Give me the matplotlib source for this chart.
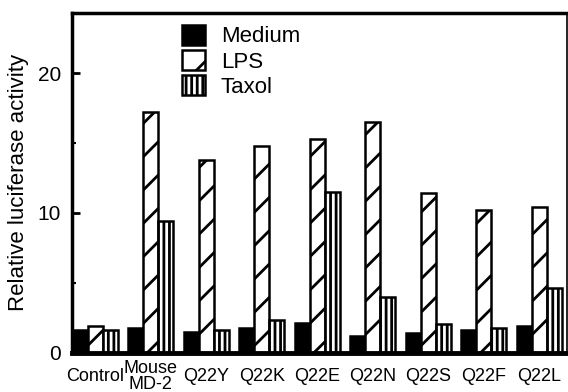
import matplotlib.pyplot as plt
import numpy as np

plt.rcParams['font.family'] = ['Liberation Sans', 'DejaVu Sans']
plt.rcParams['hatch.linewidth'] = 2.0
plt.rcParams['hatch.color'] = 'black'

groups = ['Control', 'Mouse\nMD-2', 'Q22Y', 'Q22K', 'Q22E', 'Q22N', 'Q22S', 'Q22F', 'Q22L']
medium = [1.6, 1.8, 1.5, 1.75, 2.1, 1.2, 1.4, 1.65, 1.9]
lps = [1.9, 17.2, 13.8, 14.8, 15.3, 16.5, 11.4, 10.2, 10.4]
taxol = [1.6, 9.4, 1.6, 2.35, 11.5, 4.0, 2.05, 1.75, 4.6]

x = np.arange(len(groups))
w = 0.27

fig = plt.figure(figsize=(5.68, 3.92), dpi=100)
ax = fig.add_axes([0.127, 0.1, 0.871, 0.867])

ax.bar(x - w, medium, w, color='black', edgecolor='black', linewidth=1.8, label='Medium')
ax.bar(x, lps, w, color='white', edgecolor='black', linewidth=1.8, hatch='/', label='LPS')
ax.bar(x + w, taxol, w, color='white', edgecolor='black', linewidth=1.8, hatch='|||', label='Taxol')

ax.set_xlim(-0.42, 8.5)
ax.set_ylim(0, 24.3)
ax.set_yticks([0, 10, 20])
ax.set_yticks([5, 15], minor=True)
ax.tick_params(axis='y', which='major', direction='in', length=6, width=2, labelsize=15, pad=8)
ax.tick_params(axis='y', which='minor', direction='in', length=3, width=1.5)
ax.set_xticks(x)
ax.set_xticklabels(groups, fontsize=13, linespacing=0.9)
ax.tick_params(axis='x', length=0, pad=17)
for lab in ax.get_xticklabels():
    lab.set_verticalalignment('center')

ax.set_ylabel('Relative luciferase activity', fontsize=16, labelpad=6)

for side, lw in [('left', 2.5), ('bottom', 3.5), ('top', 2.5), ('right', 1.2)]:
    ax.spines[side].set_linewidth(lw)

ax.legend(loc='upper left', bbox_to_anchor=(0.222, 0.965), frameon=False, fontsize=16,
          handlelength=1.05, handleheight=1.0, handletextpad=0.7, labelspacing=0.12,
          borderpad=0, borderaxespad=0)

fig.savefig('out.png', dpi=100)
